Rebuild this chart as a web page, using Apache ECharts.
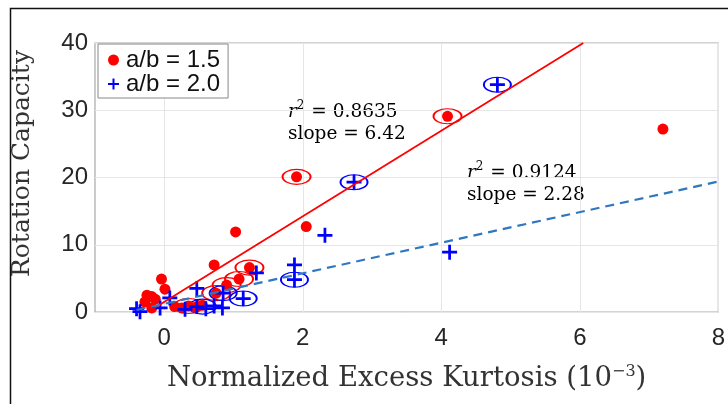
<!DOCTYPE html>
<html>
<head>
<meta charset="utf-8">
<script src="https://cdn.jsdelivr.net/npm/echarts@6/dist/echarts.min.js"></script>
<style>html,body{margin:0;padding:0;background:#fff;}#c{width:728px;height:404px;}</style>
</head>
<body>
<div id="c"></div>
<script>
// ---- data ----
const seriesNames = ['a/b = 1.5', 'a/b = 2.0'];
const xTicks = [0, 2, 4, 6, 8];
const yTicks = [0, 10, 20, 30, 40];
const redPoints = [
  [-0.28,1.5],[-0.25,2.5],[-0.18,2.3],[-0.13,1.9],[-0.18,0.6],[-0.04,4.9],[0.01,3.4],
  [0.15,0.8],[0.25,0.6],[0.35,0.9],[0.45,0.7],[0.55,1.0],[0.72,7.0],[0.75,2.8],
  [0.9,4.0],[1.08,4.9],[1.23,6.6],[1.03,11.9],[1.91,20.1],[2.05,12.7],[4.09,29.1],[7.2,27.2]
];
const bluePoints = [
  [-0.4,0.5],[-0.35,0.05],[-0.06,0.6],[0.08,2.1],[0.3,0.4],[0.47,3.5],[0.47,0.8],
  [0.6,0.5],[0.72,0.9],[0.85,2.8],[0.84,0.6],[1.14,2.0],[1.33,5.8],[1.88,7.0],
  [1.88,4.8],[2.32,11.4],[2.74,19.3],[4.12,8.9],[4.81,33.8]
];
const redCircled = [[1.91,20.1],[4.09,29.1],[1.23,6.6],[1.08,4.9],[0.9,4.0],[0.75,2.8],[0.35,0.9]];
const blueCircled = [[4.81,33.8],[2.74,19.3],[1.88,4.8],[1.14,2.0],[0.85,2.8],[0.55,0.8]];
const redFit = [[-0.23,0.05],[6.05,40]];
const blueFit = [[-0.4,0.3],[8,19.4]];
const fitLabels = [
  { r2: '0.8635', slope: '6.42' },
  { r2: '0.9124', slope: '2.28' }
];

const PLUS = 'path://M0,4.9H4.9V0H7.1V4.9H12V7.1H7.1V12H4.9V7.1H0Z';
const SERIF = 'DejaVu Serif';
const SANS = 'Liberation Sans';

const chart = echarts.init(document.getElementById('c'));
const annRich = {
  i: { fontFamily: SERIF, fontStyle: 'italic', fontSize: 18.5, lineHeight: 24, color: '#333' },
  s: { fontFamily: SERIF, fontSize: 12, lineHeight: 12, padding: [0, 1, 12, 0], color: '#333' },
  n: { fontFamily: SERIF, fontSize: 18.5, lineHeight: 24, color: '#333' }
};
function ann(left, top, lab) {
  return [
    { type: 'text', left: left, top: top, style: { text: '{i|r}{s|2}{n| = ' + lab.r2 + '}', rich: annRich } },
    { type: 'text', left: left, top: top + 25, style: { text: '{n|slope = ' + lab.slope + '}', rich: annRich } }
  ];
}

chart.setOption({
  animation: false,
  backgroundColor: '#fff',
  grid: { left: 95, right: 9, top: 43, bottom: 92, show: true, borderColor: '#a8a8a8', borderWidth: 1.2, containLabel: false },
  xAxis: {
    type: 'value', min: -1, max: 8,
    axisLine: { show: false },
    axisTick: { show: false, customValues: xTicks },
    axisLabel: { customValues: xTicks, fontFamily: SANS, fontSize: 24, color: '#262626', margin: 14 },
    splitLine: { show: true, lineStyle: { color: '#e6e6e6', width: 1 } },
    name: '{a|Normalized Excess Kurtosis (10}{s|−3}{a|)}',
    nameLocation: 'middle', nameGap: 52,
    nameTextStyle: { rich: {
      a: { fontFamily: SERIF, fontSize: 27.5, color: '#333' },
      s: { fontFamily: SERIF, fontSize: 16, color: '#333', verticalAlign: 'top', padding: [0,0,14,0] }
    } }
  },
  yAxis: {
    type: 'value', min: 0, max: 40, interval: 10,
    axisLine: { show: false },
    axisTick: { show: false },
    axisLabel: { fontFamily: SANS, fontSize: 24, color: '#262626', margin: 7 },
    splitLine: { show: true, lineStyle: { color: '#e6e6e6', width: 1 } },
    name: 'Rotation Capacity', nameLocation: 'middle', nameGap: 60,
    nameTextStyle: { fontFamily: SERIF, fontSize: 25, color: '#333', padding: [0, 0, 0, 28] }
  },
  legend: {
    left: 98, top: 44, orient: 'vertical',
    backgroundColor: '#fff', borderColor: '#888', borderWidth: 1, borderRadius: 0,
    padding: [4, 8, 2, 10], itemGap: 0, itemWidth: 11, itemHeight: 11,
    textStyle: { fontFamily: SANS, fontSize: 24, lineHeight: 21, color: '#111', padding: [0, 0, 0, 2] },
    data: [
      { name: seriesNames[0], icon: 'circle', itemStyle: { color: '#ff0000' } },
      { name: seriesNames[1], icon: PLUS, itemStyle: { color: '#0000ff' } }
    ]
  },
  graphic: [
    { type: 'rect', left: 8, top: 6, shape: { width: 760, height: 440 }, style: { fill: 'none', stroke: '#111', lineWidth: 1.5 }, silent: true }
  ].concat(ann(288, 100, fitLabels[0])).concat(ann(467, 161, fitLabels[1])),
  series: [
    { name: seriesNames[0], type: 'scatter', symbol: 'circle', symbolSize: 11, itemStyle: { color: '#ff0000', opacity: 1 }, data: redPoints, z: 3 },
    { name: seriesNames[1], type: 'scatter', symbol: PLUS, symbolSize: 15, itemStyle: { color: '#0000ff', opacity: 1 }, data: bluePoints, z: 4 },
    { name: 'redRing', type: 'scatter', symbol: 'circle', symbolSize: [28, 15], itemStyle: { color: 'rgba(0,0,0,0)', borderColor: '#ff0000', borderWidth: 1.5, opacity: 1 }, data: redCircled, z: 2 },
    { name: 'blueRing', type: 'scatter', symbol: 'circle', symbolSize: [27, 15], itemStyle: { color: 'rgba(0,0,0,0)', borderColor: '#0000ff', borderWidth: 1.5, opacity: 1 }, data: blueCircled, z: 2 },
    { name: 'redFit', type: 'line', data: redFit, symbol: 'none', lineStyle: { color: '#ff0000', width: 1.8 }, z: 5 },
    { name: 'blueFit', type: 'line', data: blueFit, symbol: 'none', lineStyle: { color: '#2f78c0', width: 2.2, type: [9, 6] }, z: 5 }
  ]
});
</script>
</body>
</html>
